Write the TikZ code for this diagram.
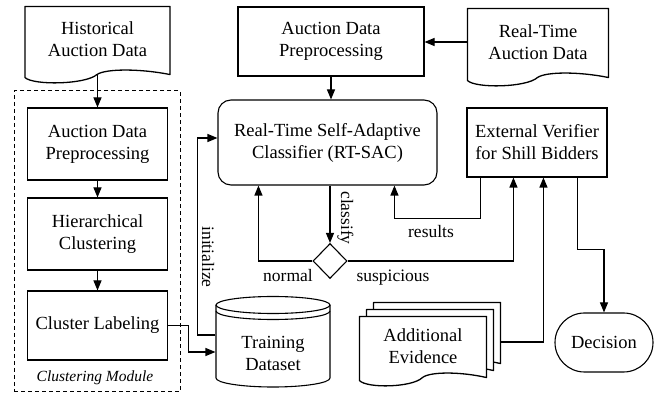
\documentclass[tikz,border=0pt]{standalone}
\usepackage{fontspec}
\setmainfont{Liberation Serif}
\usetikzlibrary{arrows.meta,shapes.geometric,shapes.misc,calc}
\newcommand\mydocshape[2]{%
\draw[fill=white,line width=1.3pt,line join=round] (#1.north west) -- ($(#1.south west)+(0,5)$)
  .. controls ($(#1.south west)+(0.06*#2,13)$) and ($(#1.south west)+(0.42*#2,12)$) .. ($(#1.south west)+(0.5*#2,2)$)
  .. controls ($(#1.south west)+(0.56*#2,-4)$) and ($(#1.south west)+(0.8*#2,-4)$) .. ($(#1.south east)+(0,2)$)
  -- (#1.north east) -- cycle;}
\begin{document}
\begin{tikzpicture}[x=1pt,y=-1pt,line width=1.1pt,
  every node/.style={font=\fontsize{18.5}{22}\selectfont,align=center,inner sep=0pt},
  proc/.style={draw,rectangle},
  arr/.style={-{Triangle[length=10pt,width=8pt]}},
  lbl/.style={font=\fontsize{17.5}{20}\selectfont},
]
\useasboundingbox (0,0) rectangle (657,395);

% clustering module frame
\node[draw,dashed,dash pattern=on 4pt off 3pt,line width=1pt,minimum width=166pt,minimum height=301pt] (module) at (97,241.5) {};
\node[font=\fontsize{15.5}{18}\selectfont\itshape,anchor=base] (modlbl) at (95,382) {Clustering Module};

% document outlines
\node[minimum width=144pt,minimum height=65pt] (hist) at (97.5,39.5) {};
\node[minimum width=140pt,minimum height=66pt] (rtad) at (538,42) {};
\node[minimum width=126pt,minimum height=58pt] (ev2) at (437,332) {};
\node[minimum width=126pt,minimum height=58pt] (ev1) at (430,339) {};
\node[minimum width=126pt,minimum height=58pt] (ev) at (423,346) {};
\mydocshape{hist}{144}
\mydocshape{rtad}{140}
\mydocshape{ev2}{126}
\mydocshape{ev1}{126}
\mydocshape{ev}{126}
\node (histtxt) at (hist) {Historical\\Auction Data};
\node (rtadtxt) at (rtad) {Real-Time\\Auction Data};
\node (evtxt) at (ev) {Additional\\Evidence};

% training dataset
\node[minimum width=114pt,minimum height=91pt] (train) at (273,341.5) {};
\draw[fill=white] (216,305) -- (216,378) arc[start angle=180,end angle=360,x radius=57pt,y radius=9pt] -- (330,305);
\draw (273,305) ellipse [x radius=57pt,y radius=8.5pt];
\draw (216,311) arc[start angle=180,end angle=360,x radius=57pt,y radius=8.5pt];
\node (traintxt) at (273,353) {Training\\Dataset};

% process boxes
\node[proc,minimum width=186pt,minimum height=69pt] (tpre) at (331,41.5) {Auction Data\\Preprocessing};
\node[draw,rounded corners=13pt,minimum width=219pt,minimum height=85pt] (rtsac) at (327.5,142.5) {Real-Time Self-Adaptive\\Classifier (RT-SAC)};
\node[proc,minimum width=140pt,minimum height=69pt] (ver) at (537,142.5) {External Verifier\\for Shill Bidders};
\node[proc,minimum width=140pt,minimum height=72pt] (lpre) at (97.5,144) {Auction Data\\Preprocessing};
\node[proc,minimum width=140pt,minimum height=72pt] (hier) at (97.5,234) {Hierarchical\\Clustering};
\node[proc,minimum width=140pt,minimum height=69pt] (clus) at (97.5,325.5) {Cluster Labeling};
\node[diamond,draw,minimum width=34pt,minimum height=35pt] (dia) at (330,261) {};
\node[rounded rectangle,draw,minimum width=98pt,minimum height=59pt] (dec) at (604,342.5) {Decision};

% connectors
\draw[arr] ($(hist.south)+(0,2)$) -- (lpre.north);
\draw[arr] (lpre) -- (hier);
\draw[arr] (hier) -- (clus);
\draw[arr] (clus.east) -- ++(20,0) |- ($(train.west)+(0,10.5)$);
\draw[arr] ($(train.west)+(0,-6.5)$) -- ++(-18,0) |- ($(rtsac.west)+(0,-4.5)$);
\draw[arr] (tpre.south) -- (tpre.south |- rtsac.north);
\draw[arr] (rtad.west) -- (rtad.west -| tpre.east);
\draw[arr] (dia.north |- rtsac.south) -- (dia.north);
\draw[arr] (dia.west) -| ($(rtsac.south west)+(41,0)$);
\draw[arr] (dia.east) -| ($(ver.south west)+(47,0)$);
\draw[arr] ($(ver.south west)+(14,0)$) -- ++(0,41) -| ($(rtsac.south west)+(177,0)$);
\draw[arr] ($(ev2.east)+(0,10)$) -| ($(ver.south west)+(77,0)$);
\draw[arr] ($(ver.south west)+(111,0)$) -- ++(0,72) -| (dec.north);

% labels
\node[lbl,rotate=-90] (linit) at (208,257) {initialize};
\node[lbl,rotate=-90] (lclass) at (345.5,218) {classify};
\node[lbl,anchor=base] (lnorm) at (288,282) {normal};
\node[lbl,anchor=base] (lsusp) at (393,282) {suspicious};
\node[lbl,anchor=base] (lres) at (431,238) {results};
\end{tikzpicture}
\end{document}
